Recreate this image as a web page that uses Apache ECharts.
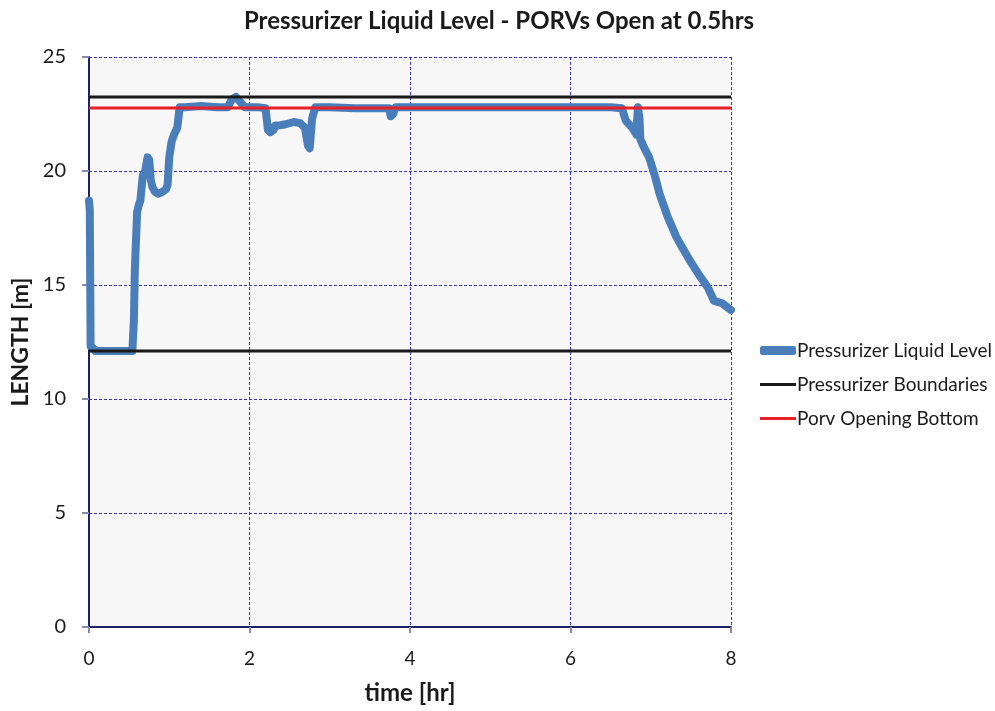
<!DOCTYPE html>
<html><head><meta charset="utf-8">
<script src="https://cdn.jsdelivr.net/npm/echarts@6/dist/echarts.min.js"></script>
<style>html,body{margin:0;padding:0;background:#fff}#c{width:995px;height:711px}</style>
</head><body><div id="c"></div>
<script>
const timeHr = [0,0.01,0.02,0.06,0.08,0.2,0.4,0.54,0.56,0.57,0.58,0.6,0.62,0.64,0.67,0.7,0.73,0.75,0.77,0.79,0.82,0.86,0.92,0.96,0.98,1.0,1.03,1.06,1.1,1.13,1.2,1.4,1.6,1.73,1.78,1.83,1.88,1.94,2.0,2.1,2.2,2.23,2.26,2.3,2.32,2.37,2.45,2.55,2.63,2.69,2.73,2.75,2.78,2.82,3.0,3.31,3.5,3.74,3.76,3.79,3.82,4.0,5.0,6.0,6.5,6.64,6.69,6.77,6.82,6.84,6.86,6.87,6.92,6.98,7.05,7.11,7.21,7.32,7.40,7.50,7.61,7.71,7.79,7.89,8.0];
const levelM = [18.7,18.3,12.3,12.2,12.1,12.1,12.1,12.1,13.5,15.5,16.5,18.2,18.5,18.7,19.8,20.0,20.6,20.5,19.6,19.3,19.1,19.0,19.1,19.2,19.4,20.6,21.3,21.6,21.9,22.8,22.8,22.85,22.8,22.8,23.15,23.25,23.05,22.8,22.8,22.8,22.75,21.8,21.7,21.8,22.0,22.0,22.05,22.15,22.1,21.9,21.1,21.0,22.3,22.8,22.8,22.75,22.75,22.75,22.4,22.5,22.8,22.8,22.8,22.8,22.8,22.75,22.2,21.9,21.6,22.8,22.3,21.4,21.0,20.6,19.8,19.0,18.0,17.1,16.6,16.0,15.4,14.9,14.3,14.2,13.9];
const boundaryUpper = 23.25;
const boundaryLower = 12.1;
const porvBottom = 22.76;
const xRange = [0, 8];
const seriesNames = ['Pressurizer Liquid Level','Pressurizer Boundaries','Porv Opening Bottom'];

const FONT = 'Lato';
const chart = echarts.init(document.getElementById('c'));
const levelData = timeHr.map((t,i)=>[t, levelM[i]]);
const legendBase = {orient:'vertical', left:755, itemWidth:36, itemGap:5,
  textStyle:{fontFamily:FONT, fontSize:19, color:'#1a1a1a', padding:[0,0,0,-4]}};
const gridLine = {show:true, lineStyle:{color:'#3434c0', type:[3,2], width:1}};
chart.setOption({
  backgroundColor:'#ffffff',
  animation:false,
  title:{text:'Pressurizer Liquid Level - PORVs Open at 0.5hrs', left:494, top:4, textAlign:'center',
    textStyle:{fontFamily:FONT, fontWeight:'bold', fontSize:24, color:'#1a1a1a'}},
  grid:{left:89, right:264, top:57, bottom:84, show:true, backgroundColor:'#f7f7f7', borderWidth:0},
  legend:[
    Object.assign({}, legendBase, {top:336, data:[{name:seriesNames[0], icon:'roundRect'}], itemHeight:9}),
    Object.assign({}, legendBase, {top:370, data:[{name:seriesNames[1], icon:'rect'}], itemHeight:3}),
    Object.assign({}, legendBase, {top:404, data:[{name:seriesNames[2], icon:'rect'}], itemHeight:3})
  ],
  xAxis:{type:'value', min:xRange[0], max:xRange[1], interval:2,
    name:'time [hr]', nameLocation:'middle', nameGap:54,
    nameTextStyle:{fontFamily:FONT, fontWeight:'bold', fontSize:24, color:'#1a1a1a'},
    axisLine:{show:true, onZero:false, lineStyle:{color:'#1f1f66', width:2}},
    axisTick:{show:true, length:6, lineStyle:{color:'#8888b0', width:2}},
    axisLabel:{fontFamily:FONT, fontSize:19, color:'#1a1a1a', margin:22},
    splitLine:gridLine},
  yAxis:{type:'value', min:0, max:25, interval:5,
    name:'LENGTH [m]', nameLocation:'middle', nameGap:53,
    nameTextStyle:{fontFamily:FONT, fontWeight:'bold', fontSize:23, color:'#1a1a1a'},
    axisLine:{show:true, onZero:false, lineStyle:{color:'#1f1f66', width:2}},
    axisTick:{show:true, length:7, lineStyle:{color:'#8888b0', width:2}},
    axisLabel:{fontFamily:FONT, fontSize:20, color:'#1a1a1a', margin:23},
    splitLine:gridLine},
  series:[
    {name:seriesNames[0], type:'line', data:levelData, showSymbol:false, symbol:'none',
      color:'#4a7ebb', lineStyle:{width:8, color:'#4a7ebb', cap:'round', join:'round'}, z:2},
    {name:seriesNames[1], type:'line', data:[[xRange[0],boundaryUpper],[xRange[1],boundaryUpper]], symbol:'none',
      color:'#1a1a1a', lineStyle:{width:3, color:'#1a1a1a'}, z:3},
    {name:seriesNames[1], type:'line', data:[[xRange[0],boundaryLower],[xRange[1],boundaryLower]], symbol:'none',
      color:'#1a1a1a', lineStyle:{width:3, color:'#1a1a1a'}, z:3},
    {name:seriesNames[2], type:'line', data:[[xRange[0],porvBottom],[xRange[1],porvBottom]], symbol:'none',
      color:'#e8202a', lineStyle:{width:3, color:'#e8202a'}, z:3}
  ]
});
</script></body></html>
